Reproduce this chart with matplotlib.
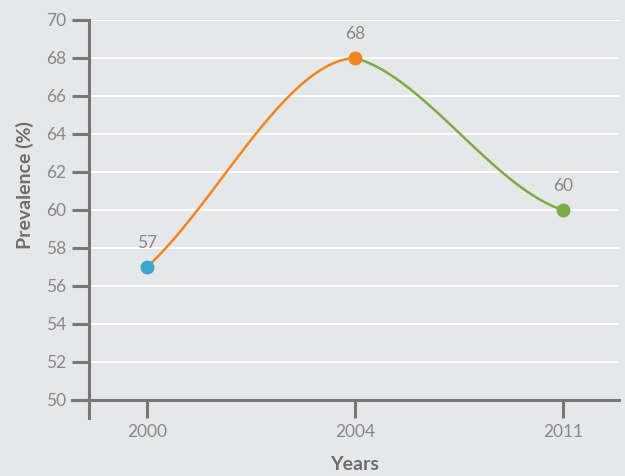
import matplotlib.pyplot as plt
import numpy as np

# data
years = ["2000", "2004", "2011"]
prevalence = [57, 68, 60]
point_colors = ["#3aa6cf", "#f0861f", "#7bac45"]
segment_colors = ["#f0861f", "#7bac45"]

bg = "#e6e7e9"
axis_col = "#777777"
text_col = "#888888"
title_col = "#6d6d6d"
plt.rcParams['font.family'] = ['Lato', 'DejaVu Sans']

# end tangents of each curved segment (data units per category step)
seg_tangents = [(10.0, 0.5), (-3.0, -3.5)]


def hermite(x0, y0, x1, y1, m0, m1, n=80):
    t = np.linspace(0, 1, n)
    h = x1 - x0
    h00 = 2 * t**3 - 3 * t**2 + 1
    h10 = t**3 - 2 * t**2 + t
    h01 = -2 * t**3 + 3 * t**2
    h11 = t**3 - t**2
    return x0 + h * t, h00 * y0 + h10 * h * m0 + h01 * y1 + h11 * h * m1


fig = plt.figure(figsize=(6.25, 4.76), dpi=100, facecolor=bg)
ax = fig.add_axes([89 / 625, 1 - 400 / 476, 530 / 625, 380 / 476])
ax.set_facecolor(bg)

x = np.arange(len(years))
ax.set_xlim(-58 / 208, 2 + 56 / 208)
ax.set_ylim(50, 70)

for sp in ax.spines.values():
    sp.set_visible(False)

# gridlines
for yv in range(52, 71, 2):
    ax.axhline(yv, color="white", lw=1.3, zorder=1)

# curve
for i, c in enumerate(segment_colors):
    m0, m1 = seg_tangents[i]
    cx, cy = hermite(x[i], prevalence[i], x[i + 1], prevalence[i + 1], m0, m1)
    ax.plot(cx, cy, color=c, lw=1.8, zorder=3, solid_capstyle='round')

for xi, yi, c in zip(x, prevalence, point_colors):
    ax.plot(xi, yi, 'o', color=c, ms=9, zorder=4)
    ax.annotate(str(yi), (xi, yi), xytext=(0, 17), textcoords='offset points',
                ha='center', va='center', color=text_col, fontsize=12.5)

# axis lines drawn manually (they overshoot the corner)
tr = ax.transAxes
ax.plot([0, 0], [-18 / 380, 1], transform=tr, color=axis_col, lw=2.2, clip_on=False, zorder=5)
ax.plot([-17 / 530, 1], [0, 0], transform=tr, color=axis_col, lw=2.2, clip_on=False, zorder=5)

ax.set_yticks(range(50, 71, 2))
ax.set_xticks(x)
ax.set_xticklabels(years)
ax.tick_params(axis='y', length=12.5, width=2.2, color=axis_col, labelcolor=text_col,
               labelsize=12.5, pad=4)
ax.tick_params(axis='x', length=13, width=2.2, color=axis_col, labelcolor=text_col,
               labelsize=12.5, pad=4)

fig.text(25 / 625, 1 - 185 / 476, "Prevalence (%)", rotation=90, ha='center', va='center',
         color=title_col, fontsize=14, fontweight='bold')
fig.text(355 / 625, 1 - 465 / 476, "Years", ha='center', va='center',
         color=title_col, fontsize=14, fontweight='bold')

fig.savefig("out.png", dpi=100, facecolor=bg)
